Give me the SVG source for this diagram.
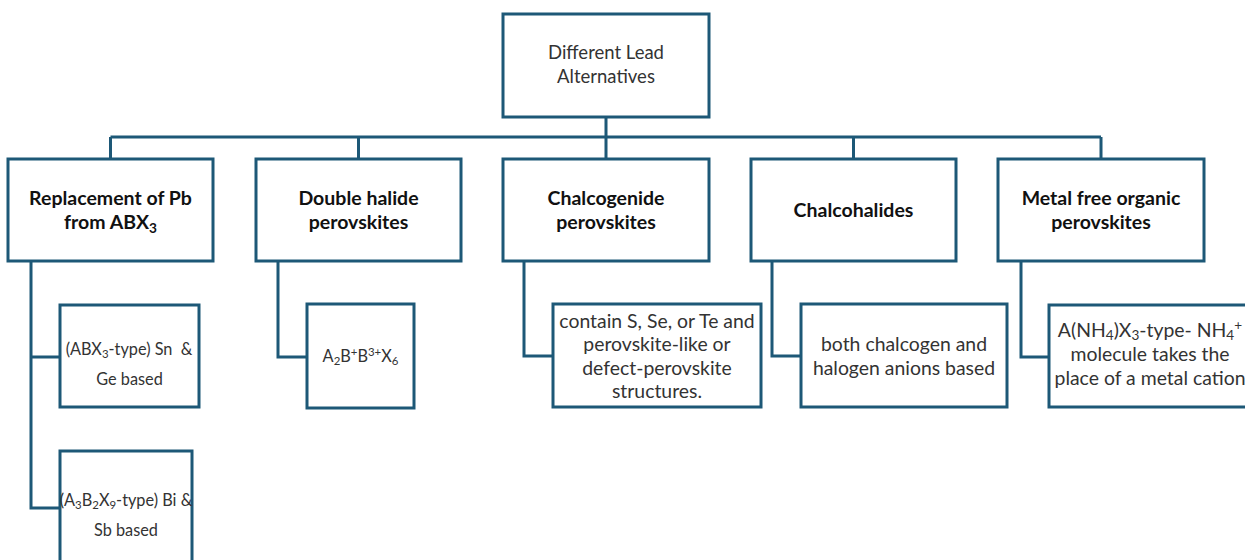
<svg xmlns="http://www.w3.org/2000/svg" width="1245" height="560" viewBox="0 0 1245 560">
<style>
.box{fill:#fff;stroke:#1d5877;stroke-width:3}
.ln{fill:none;stroke:#1d5877;stroke-width:3}
.t{font-family:Lato,"Liberation Sans",sans-serif;font-size:18.5px;fill:#333;text-anchor:middle}
.b{font-family:Lato,"Liberation Sans",sans-serif;font-size:19.5px;font-weight:bold;fill:#111;text-anchor:middle}
.s{font-family:Lato,"Liberation Sans",sans-serif;font-size:19.4px;fill:#333;text-anchor:middle}
.sm{font-family:Lato,"Liberation Sans",sans-serif;font-size:16.3px;fill:#333;text-anchor:middle}
.sub{font-size:70%}
</style>
<rect width="1245" height="560" fill="#fff"/>
<g id="connectors">
<path class="ln" d="M606 117V158M110.5 137H1101M110.5 137V159M358.5 137V159M853.5 137V159M1101 137V159"/>
<path class="ln" d="M31 261V508H60M31 357H60"/>
<path class="ln" d="M278 261V357H307"/>
<path class="ln" d="M524 261V356H553"/>
<path class="ln" d="M772 261V356H801"/>
<path class="ln" d="M1021 261V357H1049"/>
</g>
<g id="root"><rect class="box" x="503" y="14" width="206" height="103"/>
<text class="t" x="606" y="59">Different Lead</text><text class="t" x="606" y="83">Alternatives</text></g>
<g id="n1"><rect class="box" x="8" y="159" width="205" height="102"/>
<text class="b" x="110.5" y="205">Replacement of Pb</text><text class="b" x="110.5" y="229">from ABX<tspan class="sub" dy="4">3</tspan></text></g>
<g id="n2"><rect class="box" x="256" y="159" width="205" height="102"/>
<text class="b" x="358.5" y="205">Double halide</text><text class="b" x="358.5" y="229">perovskites</text></g>
<g id="n3"><rect class="box" x="503" y="159" width="206" height="102"/>
<text class="b" x="606" y="205">Chalcogenide</text><text class="b" x="606" y="229">perovskites</text></g>
<g id="n4"><rect class="box" x="751" y="159" width="205" height="102"/>
<text class="b" x="853.5" y="217">Chalcohalides</text></g>
<g id="n5"><rect class="box" x="998" y="159" width="206" height="102"/>
<text class="b" x="1101" y="205">Metal free organic</text><text class="b" x="1101" y="229">perovskites</text></g>
<g id="n1a"><rect class="box" x="60" y="305" width="139" height="102"/>
<text class="sm" x="129" y="355" xml:space="preserve">(ABX<tspan class="sub" dy="3">3</tspan><tspan dy="-3">-type) Sn  &amp;</tspan></text><text class="sm" x="129.5" y="385">Ge based</text></g>
<g id="n1b"><rect class="box" x="60" y="451" width="132" height="120"/>
<text class="sm" x="126" y="506">(A<tspan class="sub" dy="3">3</tspan><tspan dy="-3">B</tspan><tspan class="sub" dy="3">2</tspan><tspan dy="-3">X</tspan><tspan class="sub" dy="3">9</tspan><tspan dy="-3">-type) Bi &amp;</tspan></text><text class="sm" x="126" y="536">Sb based</text></g>
<g id="n2a"><rect class="box" x="307" y="304" width="107" height="104"/>
<text class="sm" x="360.5" y="362">A<tspan class="sub" dy="3">2</tspan><tspan dy="-3">B</tspan><tspan class="sub" dy="-6">+</tspan><tspan dy="6">B</tspan><tspan class="sub" dy="-6">3+</tspan><tspan dy="6">X</tspan><tspan class="sub" dy="3">6</tspan></text></g>
<g id="n3a"><rect class="box" x="553" y="304" width="208" height="103"/>
<text class="s" x="657" y="327.5">contain S, Se, or Te and</text><text class="s" x="657" y="351">perovskite-like or</text><text class="s" x="657" y="374.5">defect-perovskite</text><text class="s" x="657" y="397.5">structures.</text></g>
<g id="n4a"><rect class="box" x="801" y="304" width="206" height="103"/>
<text class="s" x="904" y="351">both chalcogen and</text><text class="s" x="904" y="374.5">halogen anions based</text></g>
<g id="n5a"><rect class="box" x="1049" y="305" width="206" height="102"/>
<text class="s" x="1150" y="337">A(NH<tspan class="sub" dy="3">4</tspan><tspan dy="-3">)X</tspan><tspan class="sub" dy="3">3</tspan><tspan dy="-3">-type- NH</tspan><tspan class="sub" dy="3">4</tspan><tspan class="sub" dy="-10">+</tspan></text><text class="s" x="1150" y="361">molecule takes the</text><text class="s" x="1150" y="384.5">place of a metal cation</text></g>
</svg>
